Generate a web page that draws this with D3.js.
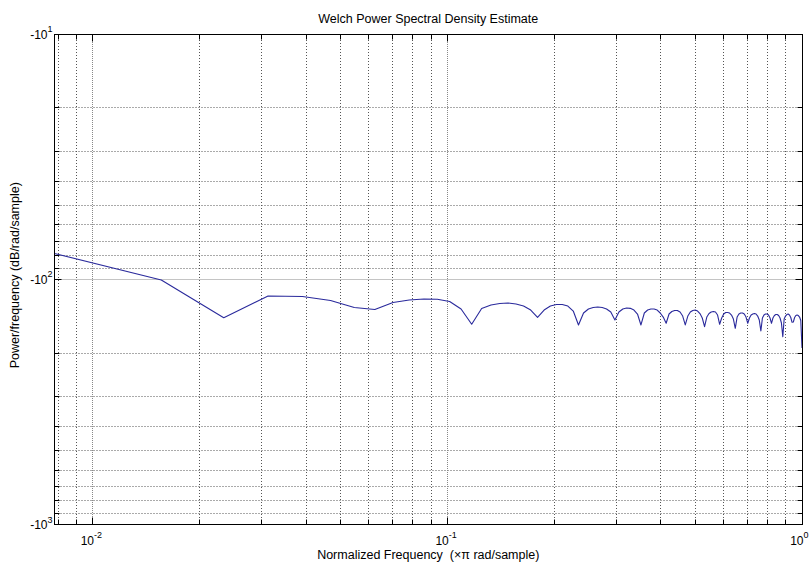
<!DOCTYPE html>
<html>
<head>
<meta charset="utf-8">
<script src="https://cdn.jsdelivr.net/npm/d3@7"></script>
<style>
  body { margin: 0; background: #fff; }
  text { font-family: "Liberation Sans", Arial, Helvetica, sans-serif; fill: #000; white-space: pre; }
</style>
</head>
<body>
<svg id="chart" width="810" height="566"></svg>
<script>
// One-sided Welch PSD, 256-point FFT: bins k = 1..128, frequency k/128 (x pi rad/sample)
const nfftHalf = 128;
const binIndex = d3.range(1, nfftHalf + 1);

// PSD estimate in dB/rad/sample, one value per bin
const psdDb = [
  -78.5, -100.7, -143.5, -117.0, -117.6, -122.1, -130.4, -132.9, -124.4, -121.5,
  -120.4, -120.7, -123.2, -132.2, -152.6, -131.6, -127.4, -125.6, -125.0, -126.2,
  -128.6, -133.5, -143.0, -133.5, -128.6, -126.8, -126.8, -128.6, -134.8, -153.6,
  -137.3, -132.2, -130.4, -129.8, -130.4, -132.2, -136.0, -146.6, -136.0, -132.2,
  -131.0, -131.4, -133.5, -138.6, -153.6, -137.3, -133.5, -132.2, -132.2, -133.5,
  -137.3, -142.6, -151.2, -138.6, -135.4, -134.1, -134.1, -136.0, -141.3, -153.6,
  -141.3, -136.0, -134.1, -133.5, -134.8, -138.0, -143.9, -156.1, -142.6, -138.0,
  -136.0, -135.4, -136.0, -139.9, -152.6, -143.9, -138.6, -136.7, -136.7, -137.3,
  -139.9, -145.3, -158.5, -142.6, -138.6, -137.3, -137.3, -138.6, -142.6, -151.2,
  -143.9, -139.9, -138.6, -138.0, -138.6, -141.3, -146.6, -162.6, -143.9, -139.9,
  -138.6, -138.6, -139.9, -143.9, -151.2, -143.9, -140.6, -139.3, -139.3, -140.6,
  -143.9, -150.8, -171.5, -145.3, -141.3, -139.3, -138.6, -139.9, -143.2, -149.8,
  -149.4, -143.2, -140.6, -139.9, -140.6, -142.6, -147.3, -190.7
];

// Axis ticks
const xMajorTicks = [0.01, 0.1, 1];
const xMinorTicks = [0.008, 0.009,
  0.02, 0.03, 0.04, 0.05, 0.06, 0.07, 0.08, 0.09,
  0.2, 0.3, 0.4, 0.5, 0.6, 0.7, 0.8, 0.9];
const xTickExponents = ["-2", "-1", "0"];

const yMajorTicks = [-10, -100, -1000];
const yMinorTicks = [-20, -30, -40, -50, -60, -70, -80, -90,
  -200, -300, -400, -500, -600, -700, -800, -900];
const yTickBase = ["-10", "-10", "-10"];
const yTickExponents = ["1", "2", "3"];

const titleText = "Welch Power Spectral Density Estimate";
const xLabelText = "Normalized Frequency  (\u00d7\u03c0 rad/sample)";
const yLabelText = "Power/frequency (dB/rad/sample)";

// Layout
const W = 810, H = 566;
const plot = { left: 54.5, right: 802, top: 34, bottom: 524.5 };

const x = d3.scaleLog().domain([1 / nfftHalf, 1]).range([plot.left, plot.right]);
const y = d3.scaleLog().domain([-10, -1000]).range([plot.top, plot.bottom]);

const svg = d3.select("#chart");
svg.append("rect").attr("width", W).attr("height", H).attr("fill", "#fff");

const g = svg.append("g");
const snap = v => Math.round(v - 0.5) + 0.5;

// Grid (dotted)
const grid = g.append("g").attr("stroke-width", 1).attr("fill", "none");
grid.selectAll("line.xminor").data(xMinorTicks).join("line")
  .attr("class", "xminor")
  .attr("x1", d => snap(x(d))).attr("x2", d => snap(x(d)))
  .attr("y1", plot.top).attr("y2", plot.bottom)
  .attr("stroke", "#555").attr("stroke-dasharray", "1,2");
grid.selectAll("line.yminor").data(yMinorTicks).join("line")
  .attr("class", "yminor")
  .attr("y1", d => snap(y(d))).attr("y2", d => snap(y(d)))
  .attr("x1", plot.left).attr("x2", plot.right)
  .attr("stroke", "#555").attr("stroke-dasharray", "1,2");
grid.selectAll("line.xmajor").data(xMajorTicks).join("line")
  .attr("class", "xmajor")
  .attr("x1", d => snap(x(d))).attr("x2", d => snap(x(d)))
  .attr("y1", plot.top).attr("y2", plot.bottom)
  .attr("stroke", "#888").attr("stroke-dasharray", "1,1");
grid.selectAll("line.ymajor").data(yMajorTicks).join("line")
  .attr("class", "ymajor")
  .attr("y1", d => snap(y(d))).attr("y2", d => snap(y(d)))
  .attr("x1", plot.left).attr("x2", plot.right)
  .attr("stroke", "#888").attr("stroke-dasharray", "1,1");

// PSD trace
const line = d3.line()
  .x((d, i) => x(binIndex[i] / nfftHalf))
  .y(d => y(d));
g.append("path")
  .datum(psdDb)
  .attr("d", line)
  .attr("fill", "none")
  .attr("stroke", "#2a2a9c")
  .attr("stroke-width", 1.1)
  .attr("stroke-linejoin", "round");

// Axes box
g.append("rect")
  .attr("x", plot.left).attr("y", snap(plot.top))
  .attr("width", snap(plot.right) - plot.left)
  .attr("height", snap(plot.bottom) - snap(plot.top))
  .attr("fill", "none").attr("stroke", "#000").attr("stroke-width", 1);

// Tick marks on all four sides, pointing inward
const ticks = g.append("g").attr("stroke", "#000").attr("stroke-width", 1);
const xTickSet = xMinorTicks.map(v => ({ v, len: 5 })).concat(xMajorTicks.map(v => ({ v, len: 7 })));
const yTickSet = yMinorTicks.map(v => ({ v, len: 5 })).concat(yMajorTicks.map(v => ({ v, len: 7 })));
ticks.selectAll("line.xb").data(xTickSet).join("line")
  .attr("x1", d => snap(x(d.v))).attr("x2", d => snap(x(d.v)))
  .attr("y1", snap(plot.bottom)).attr("y2", d => snap(plot.bottom) - d.len);
ticks.selectAll("line.xt").data(xTickSet).join("line")
  .attr("x1", d => snap(x(d.v))).attr("x2", d => snap(x(d.v)))
  .attr("y1", snap(plot.top)).attr("y2", d => snap(plot.top) + d.len);
ticks.selectAll("line.yl").data(yTickSet).join("line")
  .attr("y1", d => snap(y(d.v))).attr("y2", d => snap(y(d.v)))
  .attr("x1", plot.left).attr("x2", d => plot.left + d.len);
ticks.selectAll("line.yr").data(yTickSet).join("line")
  .attr("y1", d => snap(y(d.v))).attr("y2", d => snap(y(d.v)))
  .attr("x1", snap(plot.right)).attr("x2", d => snap(plot.right) - d.len);

// X tick labels: "10" ending at the tick, exponent raised after it
const tickFs = 12, supFs = 9, labelFs = 12.5;
xMajorTicks.forEach((v, i) => {
  svg.append("text")
    .attr("x", x(v) + 1.5).attr("y", plot.bottom + 20)
    .attr("text-anchor", "end")
    .attr("font-size", tickFs).text("10");
  svg.append("text")
    .attr("x", x(v) + 1.5).attr("y", plot.bottom + 13)
    .attr("text-anchor", "start")
    .attr("font-size", supFs).text(xTickExponents[i]);
});

// Y tick labels: "-10" with exponent, right aligned against the axis
yMajorTicks.forEach((v, i) => {
  svg.append("text")
    .attr("x", plot.left - 7).attr("y", y(v) + 4.5)
    .attr("text-anchor", "end")
    .attr("font-size", tickFs).text(yTickBase[i]);
  svg.append("text")
    .attr("x", plot.left - 7).attr("y", y(v) - 2)
    .attr("text-anchor", "start")
    .attr("font-size", supFs).text(yTickExponents[i]);
});

// Title and axis labels
const cx = (plot.left + plot.right) / 2;
svg.append("text").attr("x", cx).attr("y", 23)
  .attr("text-anchor", "middle").attr("font-size", labelFs).text(titleText);
svg.append("text").attr("x", cx).attr("y", 559)
  .attr("text-anchor", "middle").attr("font-size", labelFs).text(xLabelText);
svg.append("text")
  .attr("transform", `translate(19,${(plot.top + plot.bottom) / 2 - 4}) rotate(-90)`)
  .attr("text-anchor", "middle").attr("font-size", labelFs).text(yLabelText);
</script>
</body>
</html>
